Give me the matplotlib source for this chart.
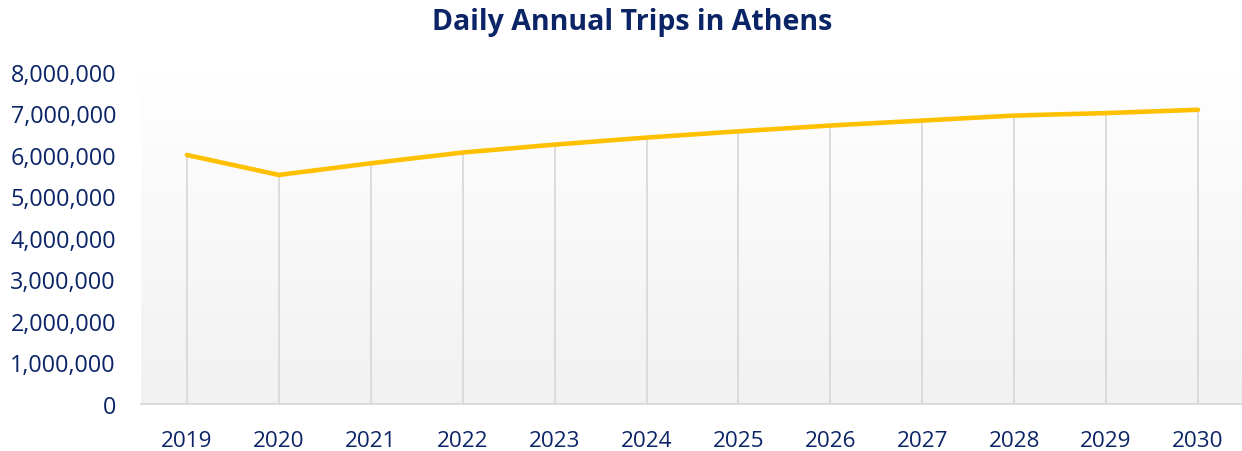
import numpy as np
import matplotlib.pyplot as plt
from matplotlib.ticker import FuncFormatter

plt.rcParams['font.family'] = ['Open Sans', 'DejaVu Sans']

years = ['2019', '2020', '2021', '2022', '2023', '2024',
         '2025', '2026', '2027', '2028', '2029', '2030']
trips = [6000000, 5520000, 5800000, 6060000, 6250000, 6420000,
         6570000, 6710000, 6830000, 6950000, 7010000, 7090000]

navy = '#0b2466'
x = np.arange(len(years))

fig = plt.figure(figsize=(12.42, 4.52), dpi=100)
ax = fig.add_axes([141 / 1242, 1 - 405 / 452, 1103 / 1242, (405 - 73) / 452])

# soft vertical gradient behind the plot, white at top to light grey at bottom
grad = np.linspace(1.0, 0.945, 256).reshape(-1, 1)
ax.imshow(np.dstack([grad, grad, grad]), extent=(-0.5, 11.5, 0, 8000000),
          aspect='auto', origin='upper', zorder=0)

# drop lines from each point down to the axis
ax.vlines(x, 0, trips, color='#d9d9d9', linewidth=1.3, zorder=1)

ax.plot(x, trips, color='#ffc000', linewidth=3.3, solid_capstyle='round',
        solid_joinstyle='round', zorder=3)

ax.set_xlim(-0.5, 11.5)
ax.set_ylim(0, 8000000)
ax.set_xticks(x)
ax.set_xticklabels(years)
ax.set_yticks(np.arange(0, 8000001, 1000000))
ax.yaxis.set_major_formatter(FuncFormatter(lambda v, p: f'{int(v):,}'))

for side in ['top', 'right', 'left']:
    ax.spines[side].set_visible(False)
ax.spines['bottom'].set_color('#d9d9d9')
ax.spines['bottom'].set_linewidth(1.3)
ax.tick_params(axis='both', length=0, colors=navy)
ax.tick_params(axis='x', pad=19, labelsize=16.2)
ax.tick_params(axis='y', pad=18, labelsize=16.8)

fig.text(0.509, 0.951, 'Daily Annual Trips in Athens', ha='center', va='center',
         fontsize=20.5, fontweight='bold', color=navy)

fig.savefig('out.png', dpi=100)
